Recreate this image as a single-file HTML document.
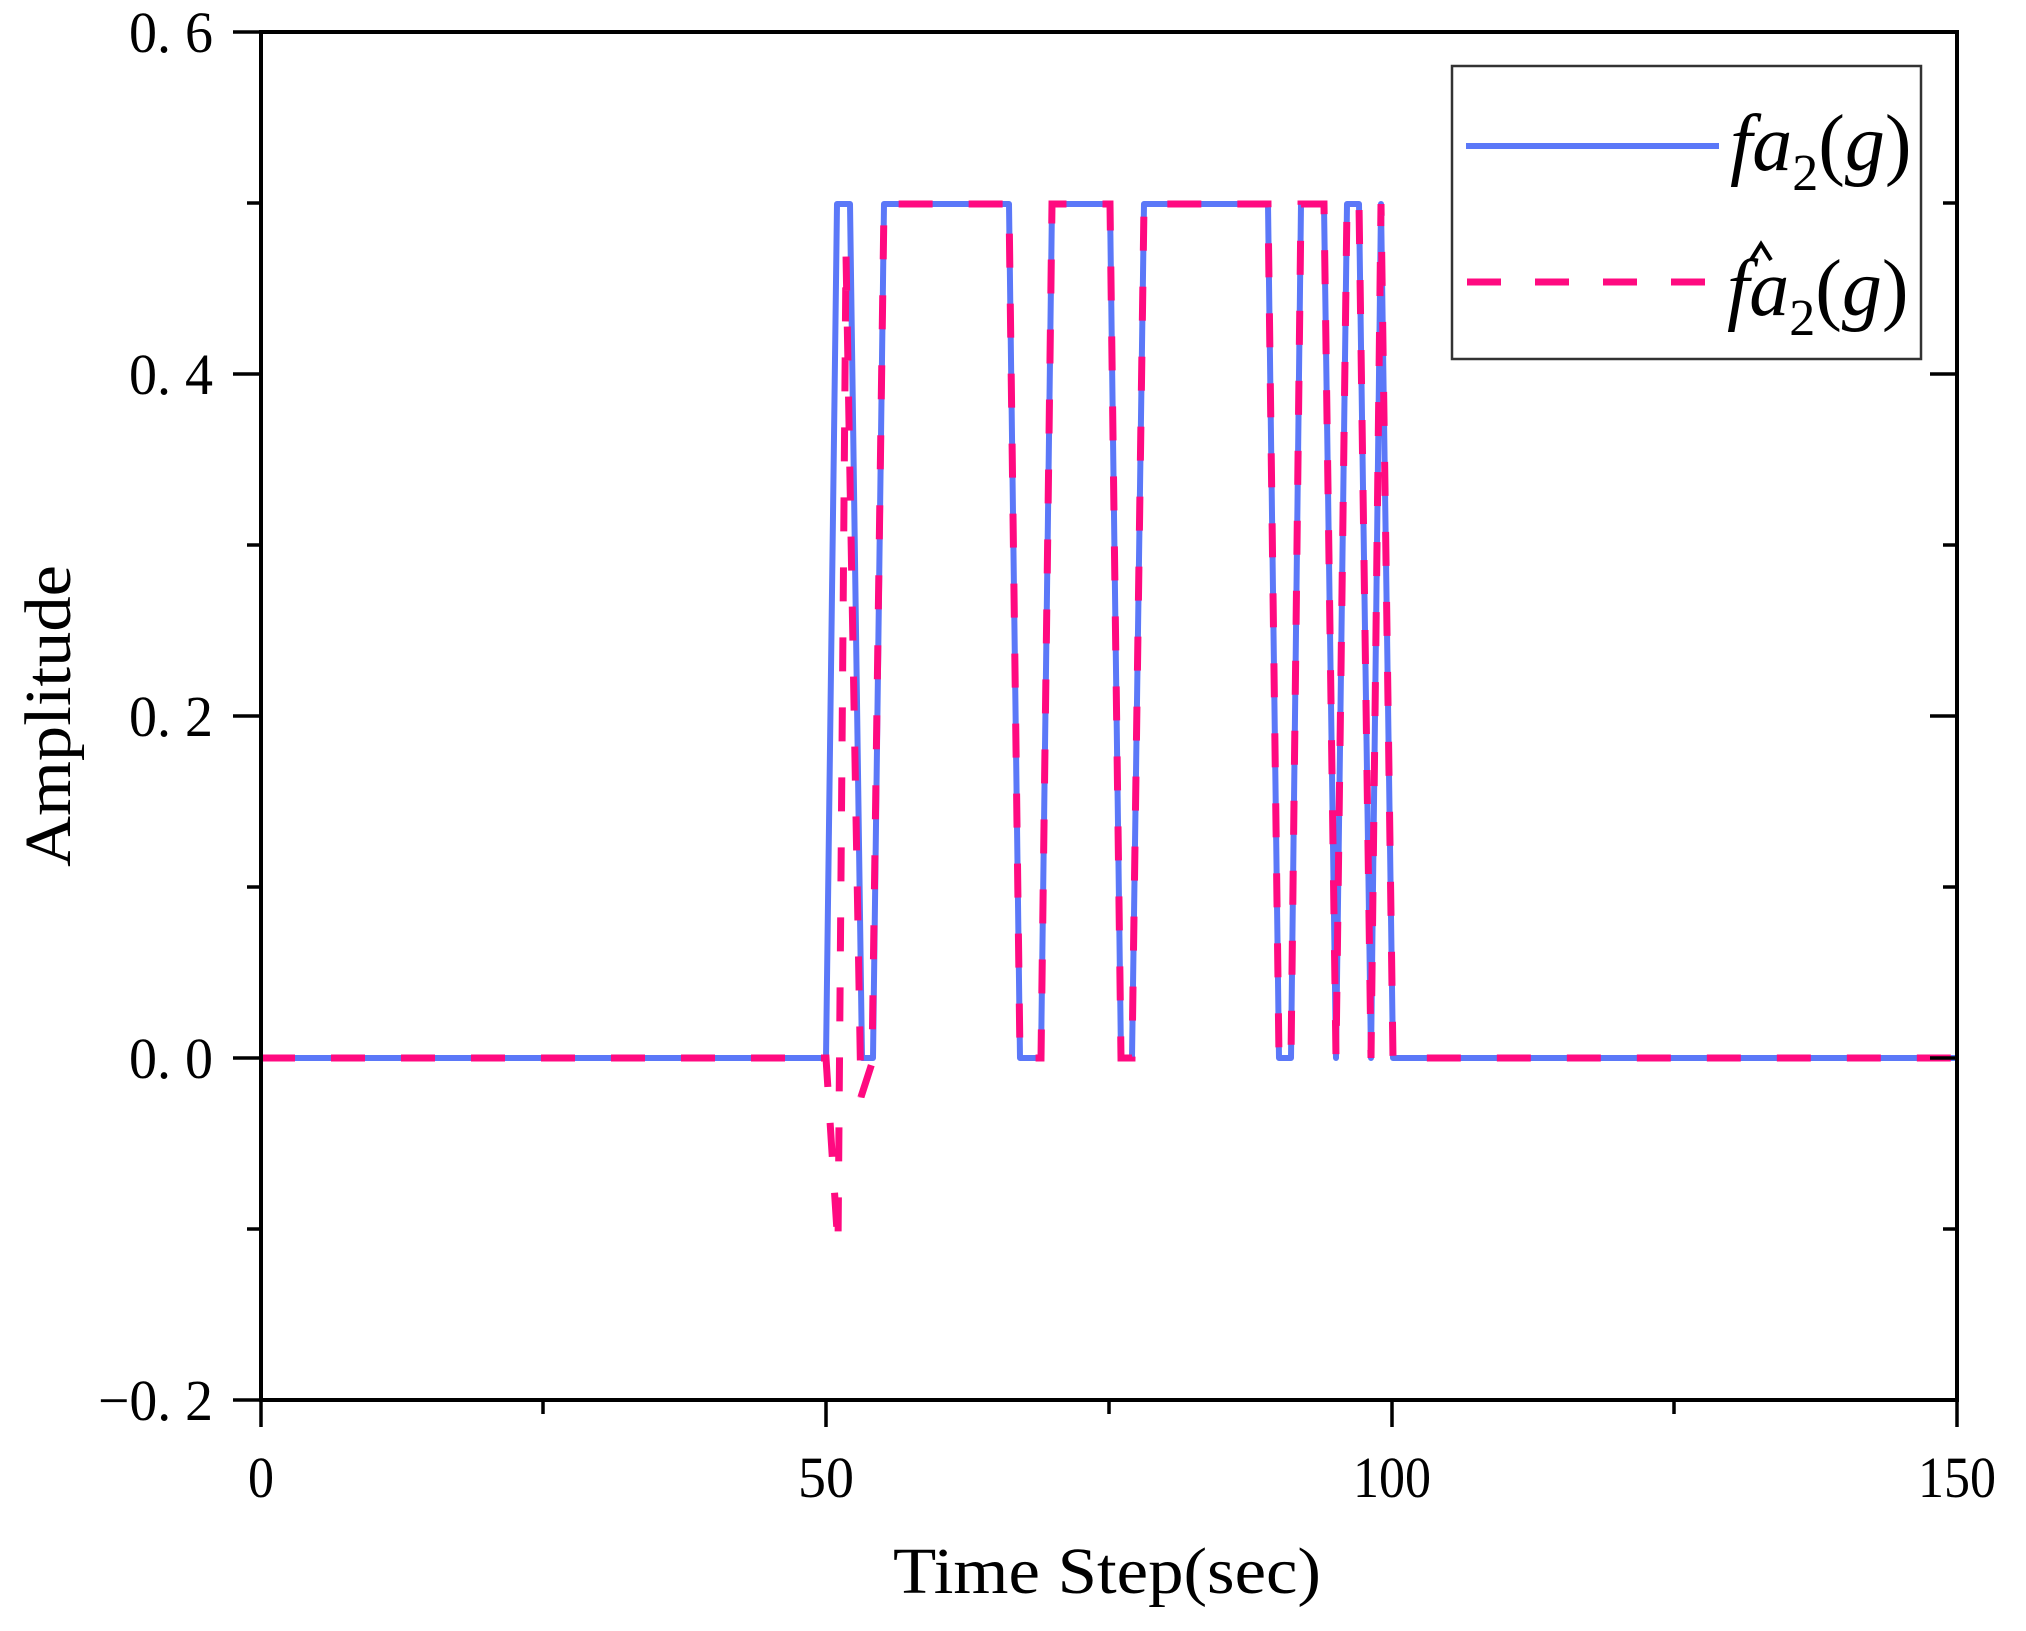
<!DOCTYPE html>
<html><head><meta charset="utf-8"><style>
html,body{margin:0;padding:0;background:#fff}
svg{display:block}
text{font-family:"Liberation Serif",serif;fill:#000}
</style></head><body>
<svg width="2026" height="1631" viewBox="0 0 2026 1631" xmlns="http://www.w3.org/2000/svg">
<rect width="2026" height="1631" fill="#fff"/>
<polyline fill="none" stroke="#5b78f8" stroke-width="6" stroke-linejoin="round"
points="261,1058 826,1058 837,204 850,204 862,1058 873,1058 884,204 1009,204 1020,1058 1041,1058 1052,204 1110,204 1121,1058 1132,1058 1144,204 1268,204 1279,1058 1291,1058 1301,204 1324,204 1336,1058 1347,204 1359,204 1371,1058 1381,204 1393,1058 1957,1058"/>
<polyline fill="none" stroke="#ff0a80" stroke-width="7" stroke-dasharray="34 36"
points="261,1058 826,1058 838,1247 846,254 861,1097 872,1063 884,204 1009,204 1020,1058 1041,1058 1052,204 1110,204 1121,1058 1132,1058 1144,204 1268,204 1279,1058 1291,1058 1301,204 1324,204 1336,1058 1347,204 1359,204 1371,1058 1381,204 1393,1058 1957,1058"/>
<rect x="261" y="32" width="1696" height="1368" fill="none" stroke="#000" stroke-width="4"/>
<g stroke="#000" stroke-width="3.5">
<line x1="233" y1="32" x2="261" y2="32"/>
<line x1="233" y1="374" x2="261" y2="374"/>
<line x1="233" y1="716" x2="261" y2="716"/>
<line x1="233" y1="1058" x2="261" y2="1058"/>
<line x1="233" y1="1400" x2="261" y2="1400"/>
<line x1="247" y1="203" x2="261" y2="203"/>
<line x1="247" y1="545" x2="261" y2="545"/>
<line x1="247" y1="887" x2="261" y2="887"/>
<line x1="247" y1="1229" x2="261" y2="1229"/>
<line x1="1930" y1="374" x2="1957" y2="374"/>
<line x1="1930" y1="716" x2="1957" y2="716"/>
<line x1="1930" y1="1058" x2="1957" y2="1058"/>
<line x1="1943" y1="203" x2="1957" y2="203"/>
<line x1="1943" y1="545" x2="1957" y2="545"/>
<line x1="1943" y1="887" x2="1957" y2="887"/>
<line x1="1943" y1="1229" x2="1957" y2="1229"/>
<line x1="261" y1="1400" x2="261" y2="1427"/>
<line x1="826" y1="1400" x2="826" y2="1427"/>
<line x1="1392" y1="1400" x2="1392" y2="1427"/>
<line x1="1957" y1="1400" x2="1957" y2="1427"/>
<line x1="543" y1="1400" x2="543" y2="1414"/>
<line x1="1109" y1="1400" x2="1109" y2="1414"/>
<line x1="1674" y1="1400" x2="1674" y2="1414"/>
</g>
<g font-size="58" text-anchor="end">
<text x="213" y="52" textLength="84" lengthAdjust="spacingAndGlyphs">0. 6</text>
<text x="213" y="394" textLength="84" lengthAdjust="spacingAndGlyphs">0. 4</text>
<text x="213" y="736" textLength="84" lengthAdjust="spacingAndGlyphs">0. 2</text>
<text x="213" y="1078" textLength="84" lengthAdjust="spacingAndGlyphs">0. 0</text>
<text x="213" y="1420" textLength="115" lengthAdjust="spacingAndGlyphs">−0. 2</text>
</g>
<g font-size="58" text-anchor="middle">
<text x="261" y="1497" textLength="26" lengthAdjust="spacingAndGlyphs">0</text>
<text x="826" y="1497" textLength="56" lengthAdjust="spacingAndGlyphs">50</text>
<text x="1392" y="1497" textLength="78" lengthAdjust="spacingAndGlyphs">100</text>
<text x="1957" y="1497" textLength="78" lengthAdjust="spacingAndGlyphs">150</text>
</g>
<text x="893" y="1593" font-size="66" textLength="428" lengthAdjust="spacingAndGlyphs">Time Step(sec)</text>
<text transform="translate(70,867) rotate(-90)" font-size="66" textLength="302" lengthAdjust="spacingAndGlyphs">Amplitude</text>
<rect x="1452" y="66" width="469" height="293" fill="#fff" stroke="#333" stroke-width="2.5"/>
<line x1="1466" y1="146" x2="1719" y2="146" stroke="#5b78f8" stroke-width="6"/>
<line x1="1467" y1="282" x2="1720" y2="282" stroke="#ff0a80" stroke-width="7" stroke-dasharray="34 34"/>
<g font-size="80" font-style="italic">
<text x="1730" y="170">fa<tspan font-style="normal" font-size="52" dy="20">2</tspan><tspan dy="-20" font-style="normal">(</tspan>g<tspan font-style="normal">)</tspan></text>
<text x="1727" y="315">fa<tspan font-style="normal" font-size="52" dy="20">2</tspan><tspan dy="-20" font-style="normal">(</tspan>g<tspan font-style="normal">)</tspan></text>
</g>
<polyline points="1751,260 1761,244 1771,260" fill="none" stroke="#000" stroke-width="4"/>
</svg>
</body></html>
